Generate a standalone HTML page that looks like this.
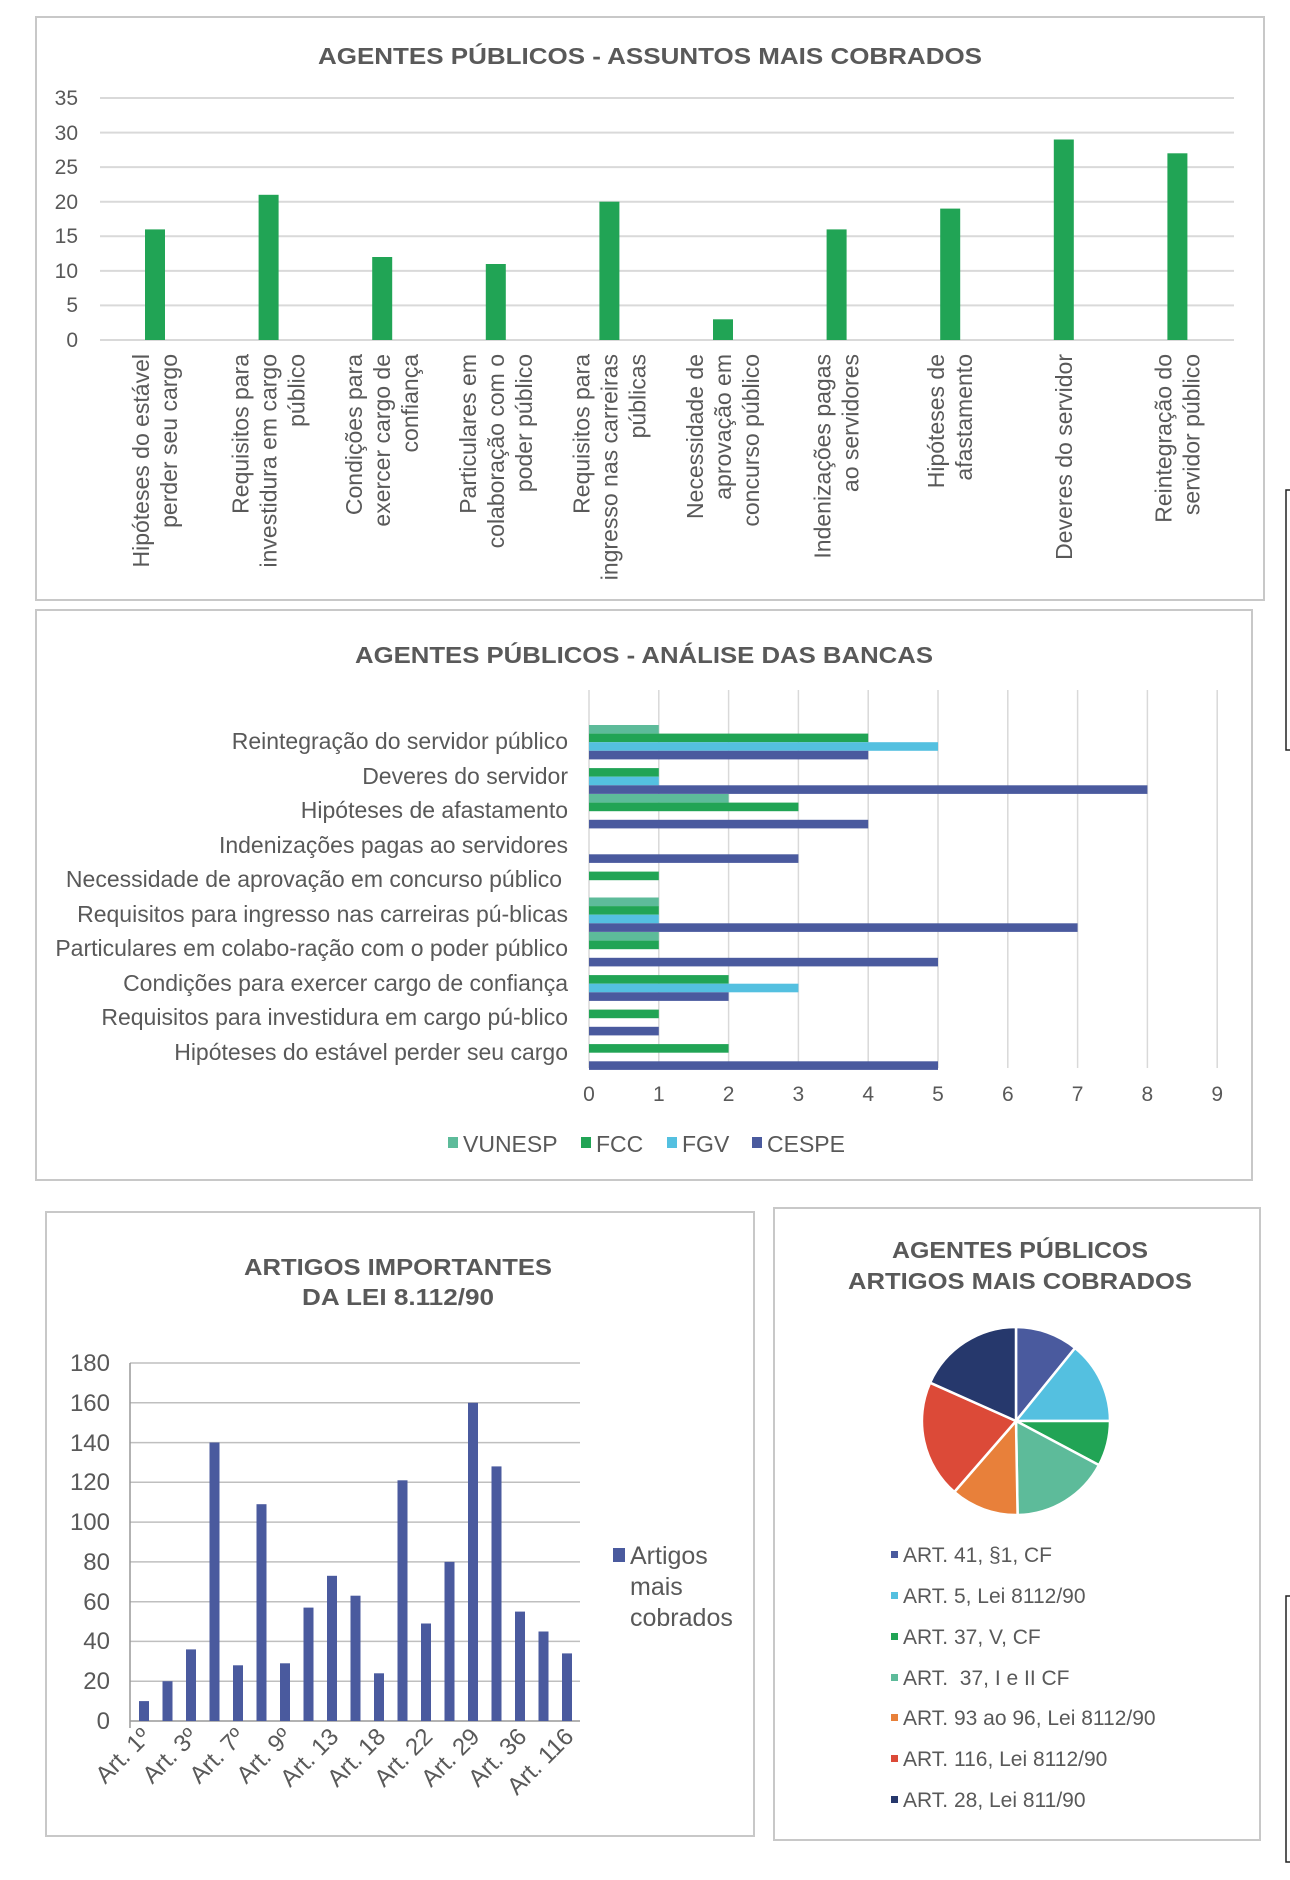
<!DOCTYPE html>
<html><head><meta charset="utf-8"><style>body{margin:0;background:#fff}svg{display:block}</style></head><body>
<svg width="1290" height="1880" viewBox="0 0 1290 1880" xmlns="http://www.w3.org/2000/svg" font-family="Liberation Sans, sans-serif" fill="#595959">
<rect width="1290" height="1880" fill="#fff"/>
<path d="M1290 490 H1286 V750 H1290 M1290 1596 H1286 V1862 H1290" stroke="#222" stroke-width="1.5" fill="none"/>

<!-- CHART 1 -->
<rect x="36" y="17" width="1228" height="583" fill="#fff" stroke="#c8c8c8" stroke-width="2"/>
<text x="650" y="64" text-anchor="middle" font-size="23" font-weight="bold" textLength="664" lengthAdjust="spacingAndGlyphs">AGENTES PÚBLICOS - ASSUNTOS MAIS COBRADOS</text>
<g stroke="#d9d9d9" stroke-width="2">
<line x1="100" y1="98" x2="1234" y2="98"/><line x1="100" y1="132.6" x2="1234" y2="132.6"/><line x1="100" y1="167.1" x2="1234" y2="167.1"/><line x1="100" y1="201.7" x2="1234" y2="201.7"/><line x1="100" y1="236.3" x2="1234" y2="236.3"/><line x1="100" y1="270.9" x2="1234" y2="270.9"/><line x1="100" y1="305.4" x2="1234" y2="305.4"/><line x1="100" y1="340" x2="1234" y2="340"/>
</g>
<g font-size="21" text-anchor="end">
<text x="78" y="105">35</text><text x="78" y="140">30</text><text x="78" y="174">25</text><text x="78" y="209">20</text><text x="78" y="243">15</text><text x="78" y="278">10</text><text x="78" y="312">5</text><text x="78" y="347">0</text>
</g>
<g fill="#21a455">
<rect x="145" y="229.4" width="20" height="110.6"/><rect x="258.6" y="194.8" width="20" height="145.2"/><rect x="372.2" y="257" width="20" height="83"/><rect x="485.8" y="264" width="20" height="76"/><rect x="599.4" y="201.7" width="20" height="138.3"/><rect x="713" y="319.3" width="20" height="20.7"/><rect x="826.6" y="229.4" width="20" height="110.6"/><rect x="940.2" y="208.6" width="20" height="131.4"/><rect x="1053.8" y="139.5" width="20" height="200.5"/><rect x="1167.4" y="153.3" width="20" height="186.7"/>
</g>
<g font-size="23" text-anchor="end">
<text transform="translate(149,354) rotate(-90)">Hipóteses do estável</text><text transform="translate(177,354) rotate(-90)">perder seu cargo</text>
<text transform="translate(248.6,354) rotate(-90)">Requisitos para</text><text transform="translate(276.6,354) rotate(-90)">investidura em cargo</text><text transform="translate(304.6,354) rotate(-90)">público</text>
<text transform="translate(362.2,354) rotate(-90)">Condições para</text><text transform="translate(390.2,354) rotate(-90)">exercer cargo de</text><text transform="translate(418.2,354) rotate(-90)">confiança</text>
<text transform="translate(475.8,354) rotate(-90)">Particulares em</text><text transform="translate(503.8,354) rotate(-90)">colaboração com o</text><text transform="translate(531.8,354) rotate(-90)">poder público</text>
<text transform="translate(589.4,354) rotate(-90)">Requisitos para</text><text transform="translate(617.4,354) rotate(-90)">ingresso nas carreiras</text><text transform="translate(645.4,354) rotate(-90)">públicas</text>
<text transform="translate(703,354) rotate(-90)">Necessidade de</text><text transform="translate(731,354) rotate(-90)">aprovação em</text><text transform="translate(759,354) rotate(-90)">concurso público</text>
<text transform="translate(830.6,354) rotate(-90)">Indenizações pagas</text><text transform="translate(858.6,354) rotate(-90)">ao servidores</text>
<text transform="translate(944.2,354) rotate(-90)">Hipóteses de</text><text transform="translate(972.2,354) rotate(-90)">afastamento</text>
<text transform="translate(1071.8,354) rotate(-90)">Deveres do servidor</text>
<text transform="translate(1171.4,354) rotate(-90)">Reintegração do</text><text transform="translate(1199.4,354) rotate(-90)">servidor público</text>
</g>

<!-- CHART 2 -->
<rect x="36" y="610" width="1216" height="570" fill="#fff" stroke="#c8c8c8" stroke-width="2"/>
<text x="644" y="663" text-anchor="middle" font-size="23" font-weight="bold" textLength="578" lengthAdjust="spacingAndGlyphs">AGENTES PÚBLICOS - ANÁLISE DAS BANCAS</text>
<g stroke="#d9d9d9" stroke-width="1.5">
<line x1="589" y1="690" x2="589" y2="1068"/><line x1="658.8" y1="690" x2="658.8" y2="1068"/><line x1="728.6" y1="690" x2="728.6" y2="1068"/><line x1="798.4" y1="690" x2="798.4" y2="1068"/><line x1="868.2" y1="690" x2="868.2" y2="1068"/><line x1="938" y1="690" x2="938" y2="1068"/><line x1="1007.8" y1="690" x2="1007.8" y2="1068"/><line x1="1077.6" y1="690" x2="1077.6" y2="1068"/><line x1="1147.4" y1="690" x2="1147.4" y2="1068"/><line x1="1217.2" y1="690" x2="1217.2" y2="1068"/>
</g>
<g font-size="21" text-anchor="middle">
<text x="589" y="1101">0</text><text x="658.8" y="1101">1</text><text x="728.6" y="1101">2</text><text x="798.4" y="1101">3</text><text x="868.2" y="1101">4</text><text x="938" y="1101">5</text><text x="1007.8" y="1101">6</text><text x="1077.6" y="1101">7</text><text x="1147.4" y="1101">8</text><text x="1217.2" y="1101">9</text>
</g>
<g font-size="23" text-anchor="end">
<text x="568" y="749">Reintegração do servidor público</text>
<text x="568" y="784">Deveres do servidor</text>
<text x="568" y="818">Hipóteses de afastamento</text>
<text x="568" y="853">Indenizações pagas ao servidores</text>
<text x="562" y="887">Necessidade de aprovação em concurso público</text>
<text x="568" y="922">Requisitos para ingresso nas carreiras pú-blicas</text>
<text x="568" y="956">Particulares em colabo-ração com o poder público</text>
<text x="568" y="991">Condições para exercer cargo de confiança</text>
<text x="568" y="1025">Requisitos para investidura em cargo pú-blico</text>
<text x="568" y="1060">Hipóteses do estável perder seu cargo</text>
</g>
<g>
<rect x="589" y="725" width="69.8" height="8.6" fill="#5dbb9a"/><rect x="589" y="733.6" width="279.2" height="8.6" fill="#21a455"/><rect x="589" y="742.2" width="349" height="8.6" fill="#54c0e0"/><rect x="589" y="750.8" width="279.2" height="8.6" fill="#4a5a9e"/>
<rect x="589" y="768.1" width="69.8" height="8.6" fill="#21a455"/><rect x="589" y="776.7" width="69.8" height="8.6" fill="#54c0e0"/><rect x="589" y="785.3" width="558.4" height="8.6" fill="#4a5a9e"/>
<rect x="589" y="794" width="139.6" height="8.6" fill="#5dbb9a"/><rect x="589" y="802.6" width="209.4" height="8.6" fill="#21a455"/><rect x="589" y="819.8" width="279.2" height="8.6" fill="#4a5a9e"/>
<rect x="589" y="854.3" width="209.4" height="8.6" fill="#4a5a9e"/>
<rect x="589" y="871.6" width="69.8" height="8.6" fill="#21a455"/>
<rect x="589" y="897.5" width="69.8" height="8.6" fill="#5dbb9a"/><rect x="589" y="906.1" width="69.8" height="8.6" fill="#21a455"/><rect x="589" y="914.7" width="69.8" height="8.6" fill="#54c0e0"/><rect x="589" y="923.3" width="488.6" height="8.6" fill="#4a5a9e"/>
<rect x="589" y="932" width="69.8" height="8.6" fill="#5dbb9a"/><rect x="589" y="940.6" width="69.8" height="8.6" fill="#21a455"/><rect x="589" y="957.8" width="349" height="8.6" fill="#4a5a9e"/>
<rect x="589" y="975.1" width="139.6" height="8.6" fill="#21a455"/><rect x="589" y="983.7" width="209.4" height="8.6" fill="#54c0e0"/><rect x="589" y="992.3" width="139.6" height="8.6" fill="#4a5a9e"/>
<rect x="589" y="1009.6" width="69.8" height="8.6" fill="#21a455"/><rect x="589" y="1026.8" width="69.8" height="8.6" fill="#4a5a9e"/>
<rect x="589" y="1044.1" width="139.6" height="8.6" fill="#21a455"/><rect x="589" y="1061.3" width="349" height="8.6" fill="#4a5a9e"/>
</g>
<g font-size="23">
<rect x="448" y="1137" width="10" height="11" fill="#5dbb9a"/><text x="463" y="1152">VUNESP</text>
<rect x="581" y="1137" width="10" height="11" fill="#21a455"/><text x="596" y="1152">FCC</text>
<rect x="667" y="1137" width="10" height="11" fill="#54c0e0"/><text x="682" y="1152">FGV</text>
<rect x="752" y="1137" width="10" height="11" fill="#4a5a9e"/><text x="767" y="1152">CESPE</text>
</g>

<!-- CHART 3 -->
<rect x="46" y="1212" width="708" height="624" fill="#fff" stroke="#c8c8c8" stroke-width="2"/>
<g font-size="23" font-weight="bold" text-anchor="middle">
<text x="398" y="1275" textLength="308" lengthAdjust="spacingAndGlyphs">ARTIGOS IMPORTANTES</text>
<text x="398" y="1305" textLength="192" lengthAdjust="spacingAndGlyphs">DA LEI 8.112/90</text>
</g>
<g stroke="#bfbfbf" stroke-width="1.5">
<line x1="130" y1="1363" x2="580" y2="1363"/><line x1="130" y1="1402.8" x2="580" y2="1402.8"/><line x1="130" y1="1442.6" x2="580" y2="1442.6"/><line x1="130" y1="1482.3" x2="580" y2="1482.3"/><line x1="130" y1="1522.1" x2="580" y2="1522.1"/><line x1="130" y1="1561.9" x2="580" y2="1561.9"/><line x1="130" y1="1601.7" x2="580" y2="1601.7"/><line x1="130" y1="1641.4" x2="580" y2="1641.4"/><line x1="130" y1="1681.2" x2="580" y2="1681.2"/>
<line x1="130" y1="1721" x2="580" y2="1721" stroke="#999"/>
<line x1="130" y1="1363" x2="130" y2="1728" stroke="#999"/>
</g>
<g font-size="24" text-anchor="end">
<text x="110" y="1371">180</text><text x="110" y="1411">160</text><text x="110" y="1451">140</text><text x="110" y="1490">120</text><text x="110" y="1530">100</text><text x="110" y="1570">80</text><text x="110" y="1610">60</text><text x="110" y="1649">40</text><text x="110" y="1689">20</text><text x="110" y="1729">0</text>
</g>
<g fill="#4a5a9e">
<rect x="139" y="1701.1" width="10" height="19.9"/><rect x="162.5" y="1681.2" width="10" height="39.8"/><rect x="186" y="1649.4" width="10" height="71.6"/><rect x="209.5" y="1442.5" width="10" height="278.5"/><rect x="233" y="1665.3" width="10" height="55.7"/><rect x="256.5" y="1504.2" width="10" height="216.8"/><rect x="280" y="1663.3" width="10" height="57.7"/><rect x="303.5" y="1607.6" width="10" height="113.4"/><rect x="327" y="1575.8" width="10" height="145.2"/><rect x="350.5" y="1595.7" width="10" height="125.3"/><rect x="374" y="1673.3" width="10" height="47.7"/><rect x="397.5" y="1480.3" width="10" height="240.7"/><rect x="421" y="1623.5" width="10" height="97.5"/><rect x="444.5" y="1561.9" width="10" height="159.1"/><rect x="468" y="1402.8" width="10" height="318.2"/><rect x="491.5" y="1466.4" width="10" height="254.6"/><rect x="515" y="1611.6" width="10" height="109.4"/><rect x="538.5" y="1631.5" width="10" height="89.5"/><rect x="562" y="1653.4" width="10" height="67.6"/>
</g>
<g font-size="24" text-anchor="end">
<text transform="translate(152,1738) rotate(-45)">Art. 1º</text>
<text transform="translate(199,1738) rotate(-45)">Art. 3º</text>
<text transform="translate(246,1738) rotate(-45)">Art. 7º</text>
<text transform="translate(293,1738) rotate(-45)">Art. 9º</text>
<text transform="translate(340,1738) rotate(-45)">Art. 13</text>
<text transform="translate(387,1738) rotate(-45)">Art. 18</text>
<text transform="translate(434,1738) rotate(-45)">Art. 22</text>
<text transform="translate(481,1738) rotate(-45)">Art. 29</text>
<text transform="translate(528,1738) rotate(-45)">Art. 36</text>
<text transform="translate(575,1738) rotate(-45)">Art. 116</text>
</g>
<g font-size="25">
<rect x="613" y="1548" width="12" height="14" fill="#4a5a9e"/>
<text x="630" y="1564">Artigos</text><text x="630" y="1595">mais</text><text x="630" y="1626">cobrados</text>
</g>

<!-- CHART 4 -->
<rect x="774" y="1208" width="486" height="632" fill="#fff" stroke="#c8c8c8" stroke-width="2"/>
<g font-size="23" font-weight="bold" text-anchor="middle">
<text x="1020" y="1258" textLength="256" lengthAdjust="spacingAndGlyphs">AGENTES PÚBLICOS</text>
<text x="1020" y="1289" textLength="344" lengthAdjust="spacingAndGlyphs">ARTIGOS MAIS COBRADOS</text>
</g>
<g stroke="#fff" stroke-width="2.5">
<path d="M1016 1421 L1016 1327 A94 94 0 0 1 1075.1 1348 Z" fill="#4a5a9e"/>
<path d="M1016 1421 L1075.1 1348 A94 94 0 0 1 1110 1421 Z" fill="#54c0e0"/>
<path d="M1016 1421 L1110 1421 A94 94 0 0 1 1099 1465.1 Z" fill="#21a455"/>
<path d="M1016 1421 L1099 1465.1 A94 94 0 0 1 1017.6 1515 Z" fill="#5dbb9a"/>
<path d="M1016 1421 L1017.6 1515 A94 94 0 0 1 954.3 1492 Z" fill="#e8803a"/>
<path d="M1016 1421 L954.3 1492 A94 94 0 0 1 930.1 1382.7 Z" fill="#dc4a38"/>
<path d="M1016 1421 L930.1 1382.7 A94 94 0 0 1 1016 1327 Z" fill="#26386c"/>
</g>
<g font-size="21">
<rect x="891" y="1551" width="7" height="7" fill="#4a5a9e"/><text x="903" y="1562">ART. 41, §1, CF</text>
<rect x="891" y="1592" width="7" height="7" fill="#54c0e0"/><text x="903" y="1603">ART. 5, Lei 8112/90</text>
<rect x="891" y="1633" width="7" height="7" fill="#21a455"/><text x="903" y="1644">ART. 37, V, CF</text>
<rect x="891" y="1674" width="7" height="7" fill="#5dbb9a"/><text x="903" y="1685" xml:space="preserve">ART.  37, I e II CF</text>
<rect x="891" y="1714" width="7" height="7" fill="#e8803a"/><text x="903" y="1725">ART. 93 ao 96, Lei 8112/90</text>
<rect x="891" y="1755" width="7" height="7" fill="#dc4a38"/><text x="903" y="1766">ART. 116, Lei 8112/90</text>
<rect x="891" y="1796" width="7" height="7" fill="#26386c"/><text x="903" y="1807">ART. 28, Lei 811/90</text>
</g>
</svg>
</body></html>
